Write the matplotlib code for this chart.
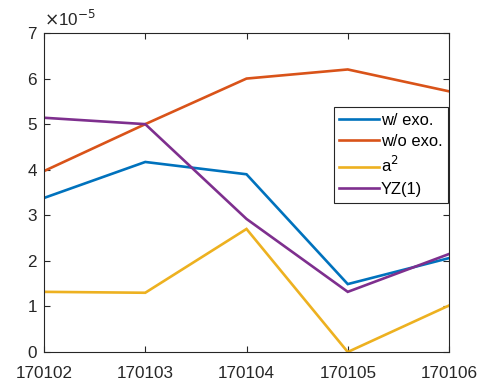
import matplotlib
matplotlib.use("Agg")
import matplotlib.pyplot as plt
from matplotlib.ticker import FuncFormatter

plt.rcParams['font.family'] = ['Liberation Sans', 'DejaVu Sans']

dates = ["170102", "170103", "170104", "170105", "170106"]
w_exo = [3.38e-5, 4.17e-5, 3.90e-5, 1.49e-5, 2.06e-5]
wo_exo = [3.97e-5, 5.00e-5, 6.00e-5, 6.20e-5, 5.72e-5]
a_sq = [1.32e-5, 1.30e-5, 2.70e-5, 0.0, 1.02e-5]
yz1 = [5.14e-5, 5.00e-5, 2.92e-5, 1.32e-5, 2.15e-5]

series = [
    (w_exo, "w/ exo.", "#0072BD"),
    (wo_exo, "w/o exo.", "#D95319"),
    (a_sq, "a$^2$", "#EDB120"),
    (yz1, "YZ(1)", "#7E2F8E"),
]

fig = plt.figure(figsize=(4.84, 3.87), dpi=100)
ax = fig.add_axes([44 / 484, 1 - 352 / 387, 405 / 484, 319 / 387])

x = list(range(len(dates)))
for vals, label, color in series:
    ax.plot(x, vals, color=color, lw=1.9, label=label, solid_joinstyle='miter')

ax.set_xlim(0, len(dates) - 1)
ax.set_ylim(0, 7e-5)
ax.set_xticks(x)
ax.set_xticklabels(dates)
ax.set_yticks([i * 1e-5 for i in range(8)])
ax.yaxis.set_major_formatter(FuncFormatter(lambda v, p: f"{round(v / 1e-5):d}"))

dark = "#262626"
for s in ax.spines.values():
    s.set_color(dark)
    s.set_linewidth(0.8)
ax.tick_params(direction='in', length=4, width=0.8, colors=dark,
               labelsize=12.3, top=True, right=True)
ax.tick_params(axis='x', pad=10)
ax.tick_params(axis='y', pad=5)

ax.text(0.0, 1.012, r"$\times$10$^{-5}$", transform=ax.transAxes,
        fontsize=12.3, color=dark, ha='left', va='bottom')

leg = ax.legend(loc='upper right', bbox_to_anchor=(0.998, 0.768),
                borderaxespad=0, fancybox=False, fontsize=11.9,
                handlelength=2.4, handletextpad=0.1, labelspacing=0.38,
                borderpad=0.35, framealpha=1)
leg.get_frame().set_edgecolor(dark)
leg.get_frame().set_linewidth(0.8)
for t in leg.get_texts():
    t.set_color("black")

fig.savefig("out.png", dpi=100)
